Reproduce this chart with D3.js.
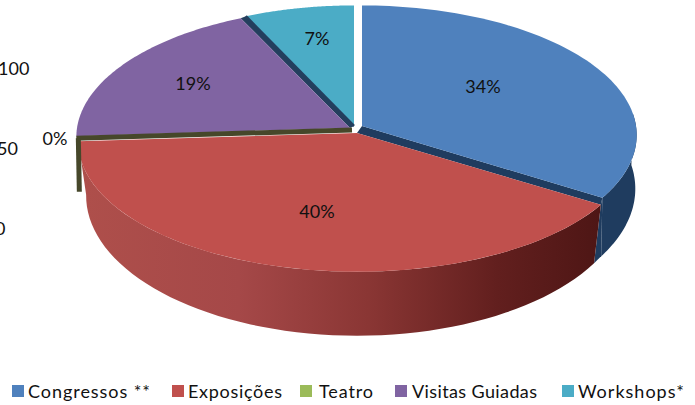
<!DOCTYPE html>
<html><head><meta charset="utf-8">
<script src="https://cdn.jsdelivr.net/npm/d3@7/dist/d3.min.js"></script>
<style>html,body{margin:0;padding:0;background:#fff}svg{display:block}text{font-family:Lato,"Open Sans",sans-serif;fill:#111}</style>
</head><body><svg id="c" width="695" height="405"></svg>
<script>
const categories=["Congressos **","Exposições","Teatro","Visitas Guiadas","Workshops*"];
const values=[34,40,0,19,7];
const colors=["#4f81bd","#c0504d","#9bbb59","#8064a2","#4bacc6"];
const sideTicks=[0,50,100];

// layout of each exploded slice
const centers=[[362,126],[357,133],[352,130],[350,128],[354,126]];
const radii=[274,278,275,273,270];
const narrow=[0.995,0.972,0.972,0.972,0.972];
const ry=129,k=0.07;
const legendX=[12,172,300,395,562];
const legendTextX=[28,188,319,412,578];
const legendTextW=[122,94,54,125,106];

const svg=d3.select("#c");
const defs=svg.append("defs");
const grad=defs.append("linearGradient").attr("id","redSide").attr("gradientUnits","userSpaceOnUse")
  .attr("x1",85).attr("x2",600).attr("y1",0).attr("y2",0);
[[0,"#ae4f4b"],[0.3,"#a54848"],[0.55,"#8a3634"],[0.8,"#621f1e"],[1,"#4e1615"]]
  .forEach(([o,c])=>grad.append("stop").attr("offset",o).attr("stop-color",c));

const arcs=d3.pie().sort(null).value(d=>d)(values);
const proj=(i,a)=>{const s=1/(1+k*Math.cos(a));
  return {x:centers[i][0]+radii[i]*Math.sin(a)*s,y:centers[i][1]-ry*Math.cos(a)*s,s};};
const topPt=(i,a)=>{const p=proj(i,a);return [p.x,p.y];};
const botPt=(i,a)=>{const p=proj(i,a),c=centers[i][0];
  return [c+(p.x-c)*narrow[i],p.y+53*Math.pow(p.s,2.6)];};
const line=d3.line();
const sample=(a0,a1,n)=>d3.range(n+1).map(j=>a0+(a1-a0)*j/n);

function side(i,a0,a1,fill){
  const as=sample(a0,a1,60);
  svg.append("path").attr("fill",fill)
    .attr("d",line([...as.map(a=>topPt(i,a)),...as.slice().reverse().map(a=>botPt(i,a))])+"Z");
}
function face(i,fill){
  const as=sample(arcs[i].startAngle,arcs[i].endAngle,80);
  svg.append("path").attr("fill",fill).attr("d",line([centers[i],...as.map(a=>topPt(i,a))])+"Z");
}

// sides
const ea=arcs[0].endAngle;
side(0,Math.PI/2-0.1,ea,"#1f3c5f");
// blue wall meeting the red one, so that no white shows between them
svg.append("path").attr("fill","#1f3c5f")
  .attr("d",line([topPt(0,ea),botPt(0,ea),botPt(1,ea),topPt(1,ea)])+"Z");
side(1,arcs[1].startAngle,arcs[1].endAngle,"url(#redSide)");

// cut faces
svg.append("path").attr("fill","#1f3c5f")
  .attr("d",line([centers[0],topPt(0,ea),topPt(1,ea),centers[1]])+"Z");
const ta=arcs[4].startAngle;
svg.append("path").attr("fill","#243f5e")
  .attr("d",line([centers[3],topPt(3,ta),topPt(4,ta),centers[4]])+"Z");

// top faces
[0,1,3,4].forEach(i=>face(i,colors[i]));

// Teatro: a 0% slice, seen only as an edge
const ga=arcs[2].startAngle;
const gt=topPt(2,ga);
svg.append("path").attr("fill","none").attr("stroke","#46472a").attr("stroke-width",5)
  .attr("d",line([[centers[2][0],centers[2][1]],gt]));
svg.append("path").attr("fill","none").attr("stroke","#46472a").attr("stroke-width",5)
  .attr("d",line([[gt[0]+2,gt[1]],[gt[0]+3,botPt(2,ga)[1]]]));
svg.append("path").attr("fill","none").attr("stroke","#243f5e").attr("stroke-width",2.5)
  .attr("d",line([centers[4],topPt(4,ta)]));

// data labels
const labelPos=[[483,86],[317,211],[55,138],[193,83],[317,38]];
svg.append("g").selectAll("text").data(values).join("text")
  .attr("x",(d,i)=>labelPos[i][0]).attr("y",(d,i)=>labelPos[i][1])
  .attr("text-anchor","middle").attr("dominant-baseline","central")
  .attr("font-size",18).text(d=>d+"%");

// clipped axis left over at the left edge
const yS=d3.scaleLinear().domain([0,100]).range([228,68]);
svg.append("g").selectAll("text").data(sideTicks).join("text")
  .attr("x",d=>d===100?-2:d===50?-3:-5).attr("y",d=>yS(d))
  .attr("dominant-baseline","central").attr("font-size",18).text(d=>d);

// legend
const lg=svg.append("g").selectAll("g").data(categories).join("g");
lg.append("rect").attr("x",(d,i)=>legendX[i]).attr("y",385).attr("width",12).attr("height",12)
  .attr("fill",(d,i)=>colors[i]);
lg.append("text").attr("x",(d,i)=>legendTextX[i]).attr("y",391).attr("dominant-baseline","central")
  .attr("font-size",18).attr("textLength",(d,i)=>legendTextW[i]).attr("lengthAdjust","spacing").text(d=>d);
</script></body></html>
